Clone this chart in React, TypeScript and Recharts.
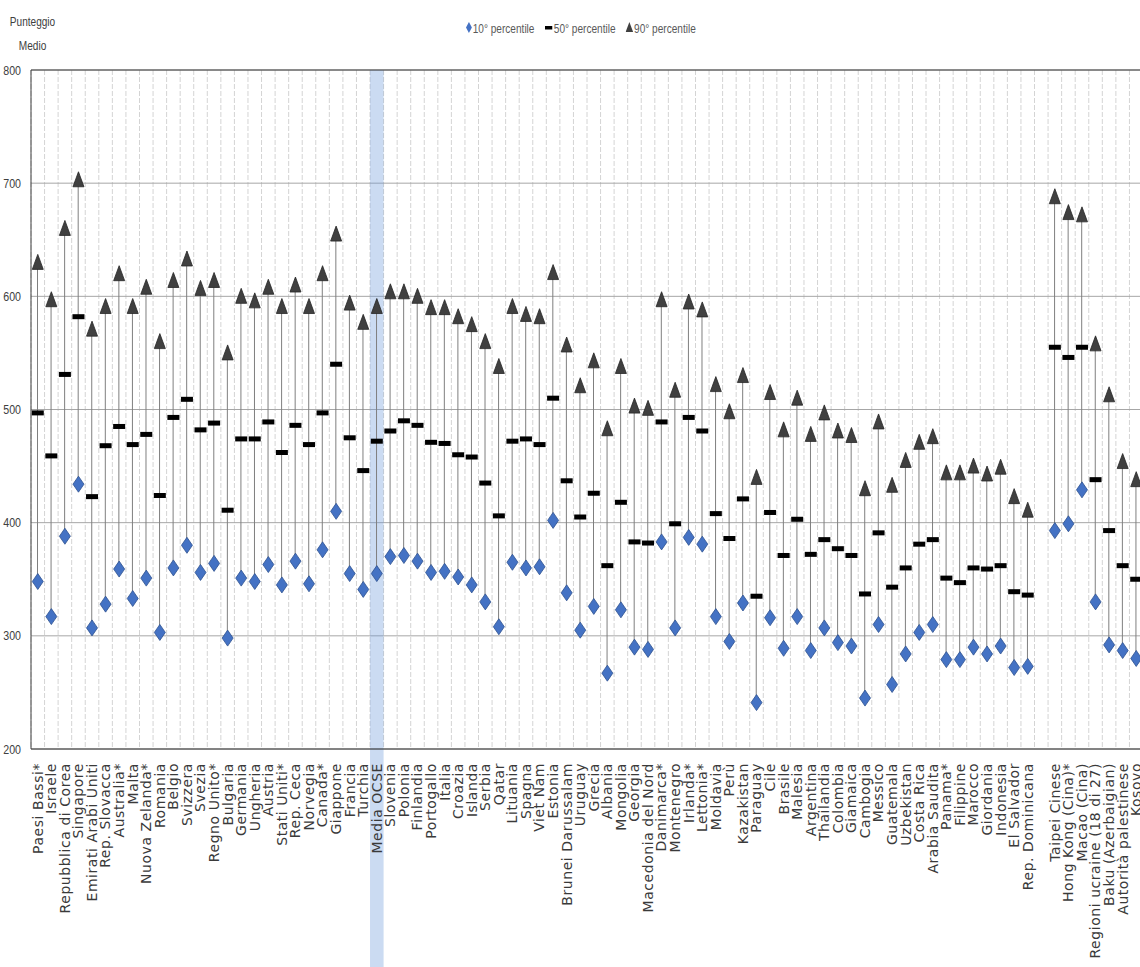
import React from "react";
import {
  ComposedChart,
  Bar,
  Line,
  XAxis,
  YAxis,
  CartesianGrid,
  ReferenceArea,
  ReferenceLine,
} from "recharts";

const countries = [
  "Paesi Bassi*", "Israele", "Repubblica di Corea", "Singapore", "Emirati Arabi Uniti",
  "Rep. Slovacca", "Australia*", "Malta", "Nuova Zelanda*", "Romania",
  "Belgio", "Svizzera", "Svezia", "Regno Unito*", "Bulgaria",
  "Germania", "Ungheria", "Austria", "Stati Uniti*", "Rep. Ceca",
  "Norvegia", "Canada*", "Giappone", "Francia", "Turchia",
  "Media OCSE", "Slovenia", "Polonia", "Finlandia", "Portogallo",
  "Italia", "Croazia", "Islanda", "Serbia", "Qatar",
  "Lituania", "Spagna", "Viet Nam", "Estonia", "Brunei Darussalam",
  "Uruguay", "Grecia", "Albania", "Mongolia", "Georgia",
  "Macedonia del Nord", "Danimarca*", "Montenegro", "Irlanda*", "Lettonia*",
  "Moldavia", "Perù", "Kazakistan", "Paraguay", "Cile",
  "Brasile", "Malesia", "Argentina", "Thailandia", "Colombia",
  "Giamaica", "Cambogia", "Messico", "Guatemala", "Uzbekistan",
  "Costa Rica", "Arabia Saudita", "Panama*", "Filippine", "Marocco",
  "Giordania", "Indonesia", "El Salvador", "Rep. Dominicana", "",
  "Taipei Cinese", "Hong Kong (Cina)*", "Macao (Cina)", "Regioni ucraine (18 di 27)", "Baku (Azerbaigian)",
  "Autorità palestinese", "Kosovo",
];

const p10 = [
  348, 317, 388, 434, 307, 328, 359, 333, 351, 303,
  360, 380, 356, 364, 298, 351, 348, 363, 345, 366,
  346, 376, 410, 355, 341, 355, 370, 371, 366, 356,
  357, 352, 345, 330, 308, 365, 360, 361, 402, 338,
  305, 326, 267, 323, 290, 288, 383, 307, 387, 381,
  317, 295, 329, 241, 316, 289, 317, 287, 307, 294,
  291, 245, 310, 257, 284, 303, 310, 279, 279, 290,
  284, 291, 272, 273, null,
  393, 399, 429, 330, 292, 287, 280,
];

const p50 = [
  497, 459, 531, 582, 423, 468, 485, 469, 478, 424,
  493, 509, 482, 488, 411, 474, 474, 489, 462, 486,
  469, 497, 540, 475, 446, 472, 481, 490, 486, 471,
  470, 460, 458, 435, 406, 472, 474, 469, 510, 437,
  405, 426, 362, 418, 383, 382, 489, 399, 493, 481,
  408, 386, 421, 335, 409, 371, 403, 372, 385, 377,
  371, 337, 391, 343, 360, 381, 385, 351, 347, 360,
  359, 362, 339, 336, null,
  555, 546, 555, 438, 393, 362, 350,
];

const p90 = [
  630, 597, 660, 703, 571, 591, 620, 591, 608, 560,
  614, 633, 607, 614, 550, 600, 596, 608, 591, 610,
  591, 620, 655, 594, 577, 591, 604, 604, 600, 590,
  590, 582, 575, 560, 538, 591, 584, 582, 621, 557,
  521, 543, 483, 538, 503, 501, 597, 517, 595, 588,
  522, 498, 530, 440, 515, 482, 510, 478, 497, 481,
  477, 430, 489, 433, 455, 471, 476, 444, 444, 450,
  443, 449, 423, 411, null,
  688, 674, 672, 558, 513, 454, 438,
];

const yTicks = [200, 300, 400, 500, 600, 700, 800];

const data = countries.map((name, i) => ({
  name,
  p10: p10[i],
  p50: p50[i],
  p90: p90[i],
  range: p10[i] == null ? null : [p10[i], p90[i]],
}));

const N = countries.length;

const Diamond = (props: any) => {
  const { cx, cy } = props;
  if (cy == null || cx == null) return null;
  return (
    <path
      d={`M${cx},${cy - 8} L${cx + 5.5},${cy} L${cx},${cy + 8} L${cx - 5.5},${cy} Z`}
      fill="#4472c4"
      stroke="#2f528f"
      strokeWidth={0.8}
    />
  );
};

const Dash = (props: any) => {
  const { cx, cy } = props;
  if (cy == null || cx == null) return null;
  return <rect x={cx - 6} y={cy - 2.5} width={12} height={5} fill="#000" />;
};

const Triangle = (props: any) => {
  const { cx, cy } = props;
  if (cy == null || cx == null) return null;
  return (
    <path
      d={`M${cx},${cy - 8} L${cx + 5.5},${cy + 7} L${cx - 5.5},${cy + 7} Z`}
      fill="#404040"
      stroke="#262626"
      strokeWidth={0.8}
    />
  );
};

const CountryTick = (props: any) => {
  const { x, y, payload } = props;
  return (
    <text
      transform={`translate(${x},${y + 6}) rotate(-90)`}
      textAnchor="end"
      dy="0.35em"
      fontSize={14}
      letterSpacing={0.55}
      fontFamily="DejaVu Sans, Verdana, sans-serif"
      fill="#3a3a3a"
    >
      {payload.value}
    </text>
  );
};

const YTick = (props: any) => {
  const { x, y, payload } = props;
  return (
    <text
      transform={`translate(${x - 2},${y}) scale(0.82,1)`}
      textAnchor="end"
      dy="0.35em"
      fontSize={13}
      fontFamily="'Liberation Sans', Arial, sans-serif"
      fill="#404040"
    >
      {payload.value}
    </text>
  );
};

const OcseBand = (props: any) => {
  const { x, y, width, height } = props;
  return (
    <rect
      x={x}
      y={y}
      width={width}
      height={height + 230}
      fill="rgba(110,155,220,0.36)"
    />
  );
};

const narrow: React.CSSProperties = {
  fontFamily: "'Liberation Sans', Arial, sans-serif",
  fontSize: 12,
  color: "#595959",
  transformOrigin: "left top",
  transform: "scaleX(0.84)",
  whiteSpace: "nowrap",
};

export default function App() {
  return (
    <div
      style={{
        position: "absolute",
        left: 0,
        top: 0,
        width: 1140,
        height: 967,
        overflow: "hidden",
        background: "#fff",
      }}
    >
      <div
        style={{
          position: "absolute",
          left: 9,
          top: 10,
          width: 56,
          textAlign: "center",
          lineHeight: "24px",
          ...narrow,
          color: "#404040",
        }}
      >
        Punteggio
        <br />
        Medio
      </div>
      <div
        style={{
          position: "absolute",
          left: 466,
          top: 22,
          display: "flex",
          gap: 12,
          alignItems: "center",
          ...narrow,
        }}
      >
        <span>
          <svg width={7} height={11} style={{ marginRight: 1 }}>
            <path d="M3.5,0 L7,5.5 L3.5,11 L0,5.5 Z" fill="#4472c4" />
          </svg>
          10° percentile
        </span>
        <span>
          <svg width={9} height={11} style={{ marginRight: 2 }}>
            <rect x={0} y={4} width={9} height={3.5} fill="#000" />
          </svg>
          50° percentile
        </span>
        <span>
          <svg width={9} height={11} style={{ marginRight: 1 }}>
            <path d="M4.5,0 L9,10 L0,10 Z" fill="#404040" />
          </svg>
          90° percentile
        </span>
      </div>
      <ComposedChart
        width={1160}
        height={967}
        data={data}
        margin={{ top: 70, right: 17, left: 0, bottom: 0 }}
      >
        <CartesianGrid
          horizontal={false}
          stroke="#d4d4d4"
          strokeDasharray="5 2"
          verticalCoordinatesGenerator={({ offset }: any) =>
            Array.from({ length: N + 1 }, (_, i) => offset.left + (i * offset.width) / N)
          }
        />
        <CartesianGrid vertical={false} stroke="#a6a6a6" />
        <XAxis
          dataKey="name"
          interval={0}
          height={218}
          tick={<CountryTick />}
          tickLine={false}
          axisLine={{ stroke: "#333" }}
        />
        <YAxis
          domain={[200, 800]}
          ticks={yTicks}
          width={31}
          tickLine={false}
          axisLine={{ stroke: "#404040" }}
          tick={<YTick />}
        />
        <ReferenceLine y={800} stroke="#404040" />
        <Bar
          dataKey="range"
          barSize={1}
          fill="#7f7f7f"
          isAnimationActive={false}
        />
        <Line
          dataKey="p10"
          stroke="none"
          dot={(p: any) => <Diamond key={`d${p.index}`} {...p} />}
          activeDot={false}
          isAnimationActive={false}
        />
        <Line
          dataKey="p50"
          stroke="none"
          dot={(p: any) => <Dash key={`m${p.index}`} {...p} />}
          activeDot={false}
          isAnimationActive={false}
        />
        <Line
          dataKey="p90"
          stroke="none"
          dot={(p: any) => <Triangle key={`t${p.index}`} {...p} />}
          activeDot={false}
          isAnimationActive={false}
        />
        <ReferenceArea
          x1="Media OCSE"
          x2="Media OCSE"
          shape={<OcseBand />}
          isAnimationActive={false}
        />
      </ComposedChart>
    </div>
  );
}
